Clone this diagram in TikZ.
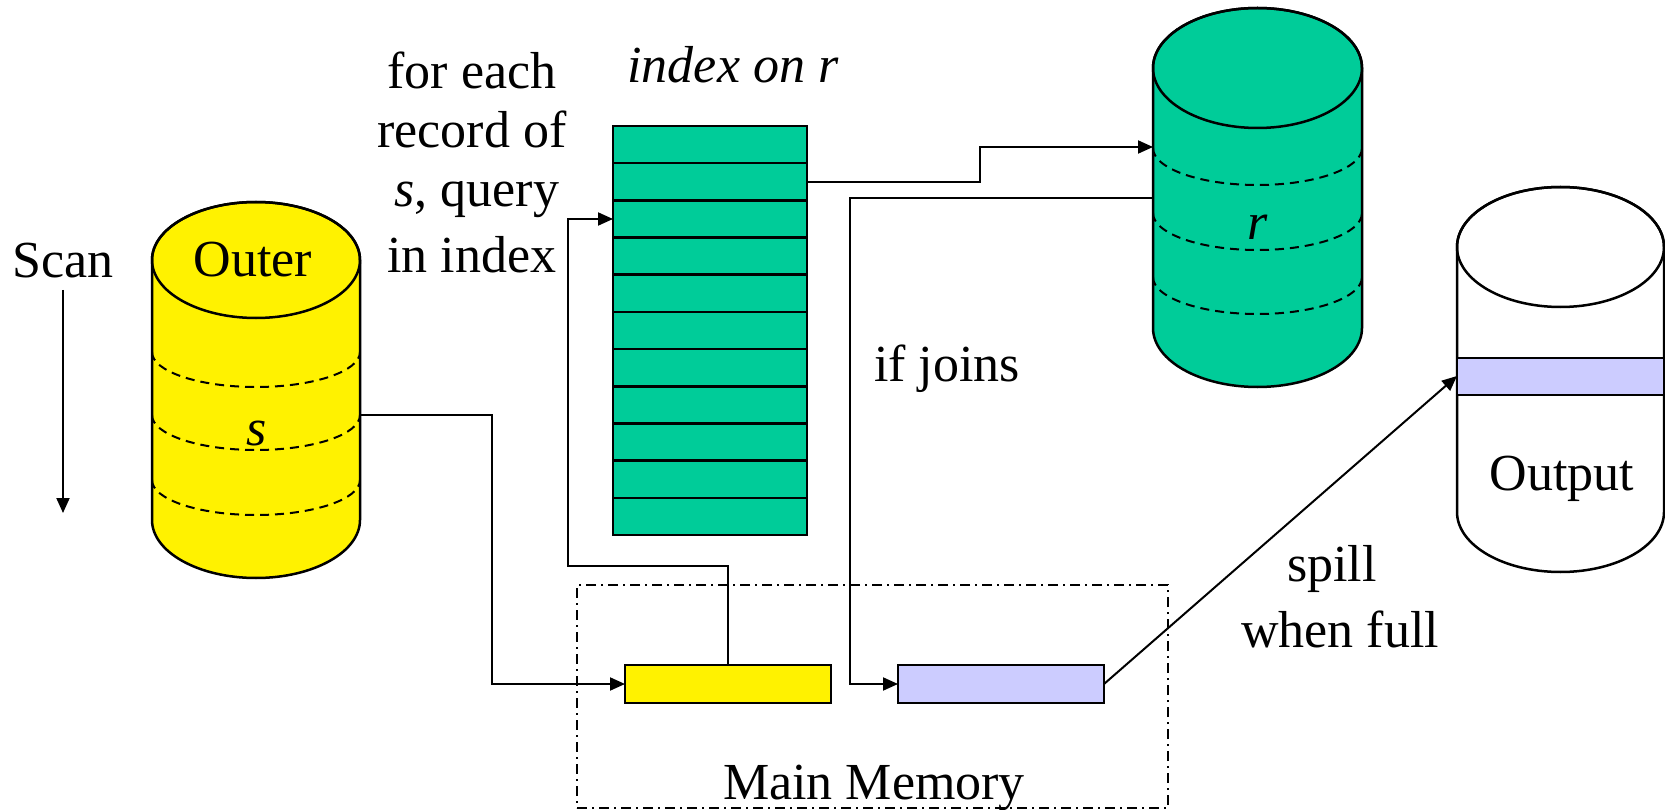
\documentclass[tikz,border=0pt]{standalone}
\usepackage{fontspec}
\setmainfont{Liberation Serif}
\usetikzlibrary{arrows.meta}
\definecolor{diskgreen}{HTML}{00CC99}
\definecolor{bufblue}{HTML}{CCCCFF}
\begin{document}
\begin{tikzpicture}[x=1pt,y=1pt,
  lbl/.style={font=\fontsize{52}{60}\selectfont, anchor=base, inner sep=0pt, outer sep=0pt},
  link/.style={line width=2pt, -{Triangle[length=15pt,width=13pt]}},
  outline/.style={line width=2.5pt},
  band/.style={line width=2pt, dash pattern=on 9pt off 6pt},
  bufbox/.style={draw, line width=2.5pt, minimum width=206pt, minimum height=38pt, inner sep=0pt, outer sep=0pt},
  membox/.style={draw, line width=1.5pt, dash pattern=on 10pt off 5pt on 2pt off 5pt,
    minimum width=591pt, minimum height=223pt, inner sep=0pt, outer sep=0pt},
]
\useasboundingbox (0,0) rectangle (1665,-810);

% ---------- outer relation s (yellow disk) ----------
\filldraw[outline, fill=yellow] (152,-260) -- (152,-520)
  arc[start angle=180, end angle=360, x radius=104pt, y radius=58pt]
  -- (360,-260)
  arc[start angle=0, end angle=180, x radius=104pt, y radius=58pt] -- cycle;
\draw[outline] (256,-260) ellipse[x radius=104pt, y radius=58pt];
\foreach \yy in {352,415,480}
  \draw[band] (152,-\yy) arc[start angle=180, end angle=360, x radius=104pt, y radius=35pt];
\node[lbl] (outerlbl) at (253,-277) {Outer};
\node[lbl] (slbl) at (257,-445) {\textit{s}};
\coordinate (sport) at (360,-415);

% ---------- scan direction ----------
\node[lbl] (scan) at (63,-278) {Scan};
\coordinate (scantop) at (63,-290);
\coordinate (scanbot) at (63,-513);
\draw[link] (scantop) -- (scanbot);

% ---------- index on r ----------
\node[draw, fill=diskgreen, line width=2.5pt, minimum width=194pt, minimum height=409pt,
  inner sep=0pt, outer sep=0pt] (idx) at (710,-330.5) {};
\foreach \k in {1,...,10}
  \draw[line width=2.5pt] (613,{-126-37.18*\k}) -- (807,{-126-37.18*\k});
\node[lbl] (idxlbl) at (733,-83) {\textit{index on r}};
\coordinate (idxq) at (613,-219);
\coordinate (idxout) at (807,-182);

% ---------- inner relation r (green disk) ----------
\filldraw[outline, fill=diskgreen] (1153,-68) -- (1153,-328)
  arc[start angle=180, end angle=360, x radius=104.5pt, y radius=59pt]
  -- (1362,-68)
  arc[start angle=0, end angle=180, x radius=104.5pt, y radius=60pt] -- cycle;
\draw[outline] (1257.5,-68) ellipse[x radius=104.5pt, y radius=60pt];
\foreach \yy in {148,213,277}
  \draw[band] (1153,-\yy) arc[start angle=180, end angle=360, x radius=104.5pt, y radius=37pt];
\node[lbl] (rlbl) at (1258,-240) {\textit{r}};
\coordinate (rin) at (1153,-147);
\coordinate (rout) at (1153,-198);

% ---------- output disk ----------
\filldraw[outline, fill=white] (1457,-247) -- (1457,-512)
  arc[start angle=180, end angle=360, x radius=103.5pt, y radius=60pt]
  -- (1664,-247)
  arc[start angle=0, end angle=180, x radius=103.5pt, y radius=60pt] -- cycle;
\draw[outline] (1560.5,-247) ellipse[x radius=103.5pt, y radius=60pt];
\filldraw[outline, fill=bufblue] (1457,-358) rectangle (1664,-395);
\node[lbl] (outlbl) at (1562,-490) {Output};
\coordinate (outin) at (1457,-376);

% ---------- main memory ----------
\node[membox] (mem) at (872.5,-696.5) {};
\node[lbl] (memlbl) at (874,-799) {Main Memory};
\node[bufbox, fill=yellow] (sbuf) at (728,-684) {};
\node[bufbox, fill=bufblue] (jbuf) at (1001,-684) {};

% ---------- labels ----------
\node[lbl] (q1) at (472,-89) {for each};
\node[lbl] (q2) at (472,-148) {record of};
\node[lbl] (q3) at (477,-207) {\textit{s}, query};
\node[lbl] (q4) at (472,-273) {in index};
\node[lbl] (joinlbl) at (947,-381) {if joins};
\node[lbl] (spill1) at (1332,-581) {spill};
\node[lbl] (spill2) at (1340,-647) {when full};

% ---------- connectors ----------
\draw[link] (sport) -- (492,-415) |- (sbuf.west);
\draw[link] (sbuf.north) |- (568,-566) |- (idxq);
\draw[link] (idxout) -- (980,-182) |- (rin);
\draw[link] (rout) -| (850,-684) -- (jbuf.west);
\draw[link] (jbuf.east) -- (outin);
\end{tikzpicture}
\end{document}
